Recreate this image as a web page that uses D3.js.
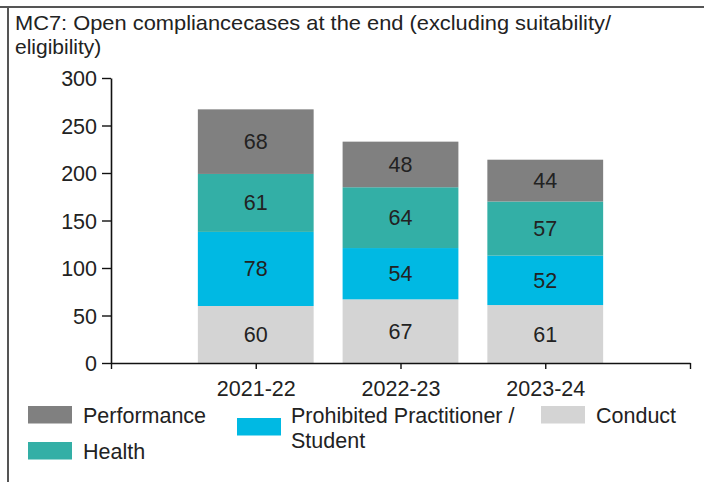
<!DOCTYPE html>
<html>
<head>
<meta charset="utf-8">
<script src="https://cdn.jsdelivr.net/npm/d3@7"></script>
<style>
  html, body { margin: 0; padding: 0; background: #fff; }
  svg { display: block; font-family: "Liberation Sans", Arial, sans-serif; }
</style>
</head>
<body>
<svg id="chart" width="704" height="482"></svg>
<script>
// Years shown along the x axis
const categories = ["2021-22", "2022-23", "2023-24"];
// Case counts per category, stacked bottom to top
const conduct = [60, 67, 61];
const prohibited = [78, 54, 52];
const health = [61, 64, 57];
const performance = [68, 48, 44];
// Y axis tick values
const yTicks = [0, 50, 100, 150, 200, 250, 300];

const seriesNames = ["Conduct", "Prohibited Practitioner / Student", "Health", "Performance"];
const seriesValues = [conduct, prohibited, health, performance];
const colors = {
  "Performance": "#808080",
  "Health": "#33afa6",
  "Prohibited Practitioner / Student": "#00b9e3",
  "Conduct": "#d4d4d4"
};
const textColor = "#222";
const fontSize = 21.5;

const svg = d3.select("#chart");

// Frame lines (top and left)
svg.append("line").attr("x1", 0).attr("x2", 704).attr("y1", 7).attr("y2", 7)
  .attr("stroke", "#555").attr("stroke-width", 2);
svg.append("line").attr("x1", 8).attr("x2", 8).attr("y1", 6).attr("y2", 482)
  .attr("stroke", "#555").attr("stroke-width", 2);

// Title
const title = svg.append("text").attr("fill", textColor).attr("font-size", 21);
title.append("tspan").attr("x", 15).attr("y", 30)
  .attr("textLength", 596).attr("lengthAdjust", "spacingAndGlyphs")
  .text("MC7: Open compliancecases at the end (excluding suitability/");
title.append("tspan").attr("x", 15).attr("y", 54).text("eligibility)");

// Scales
const y = d3.scaleLinear().domain([0, 300]).range([363, 78]);
const x = d3.scaleLinear().domain([0, categories.length + 1]).range([111, 690]);
const barW = (x(1) - x(0)) * 0.8;

// Stack rows
const rows = categories.map((c, i) => {
  const r = { cat: c, idx: i };
  seriesNames.forEach((s, k) => r[s] = seriesValues[k][i]);
  return r;
});
const stacked = d3.stack().keys(seriesNames)(rows);

const layers = svg.append("g").selectAll("g").data(stacked).join("g")
  .attr("fill", d => colors[d.key]);

layers.selectAll("rect").data(d => d).join("rect")
  .attr("x", d => x(d.data.idx + 1) - barW / 2)
  .attr("width", barW)
  .attr("y", d => y(d[1]))
  .attr("height", d => y(d[0]) - y(d[1]));

// Value labels centred in each segment
const labels = svg.append("g").attr("font-size", fontSize).attr("fill", textColor)
  .attr("text-anchor", "middle");
stacked.forEach(layer => {
  layer.forEach(d => {
    labels.append("text")
      .attr("x", x(d.data.idx + 1))
      .attr("y", (y(d[0]) + y(d[1])) / 2 + 7.5)
      .text(d[1] - d[0]);
  });
});

// Y axis
const yAxis = svg.append("g").attr("transform", "translate(111,0)")
  .call(d3.axisLeft(y).tickValues(yTicks).tickSize(9).tickSizeOuter(0).tickPadding(5));
yAxis.select(".domain").attr("stroke", "#111").attr("stroke-width", 1.6);
yAxis.selectAll(".tick line").attr("stroke", "#111").attr("stroke-width", 1.4);
yAxis.selectAll(".tick text").attr("font-size", fontSize).attr("fill", textColor)
  .attr("font-family", "Liberation Sans, Arial, sans-serif").attr("dy", "0.36em");

// X axis (ticks at both ends and under each bar)
const xAxis = svg.append("g").attr("transform", "translate(0,363)")
  .call(d3.axisBottom(x).tickValues(d3.range(categories.length + 2))
    .tickFormat(i => categories[i - 1] || "").tickSize(6).tickSizeOuter(0).tickPadding(0));
xAxis.select(".domain").attr("stroke", "#111").attr("stroke-width", 1.6);
xAxis.selectAll(".tick line").attr("stroke", "#111").attr("stroke-width", 1.4);
xAxis.selectAll(".tick text").attr("font-size", fontSize).attr("fill", textColor)
  .attr("font-family", "Liberation Sans, Arial, sans-serif")
  .attr("y", 33).attr("dy", 0);

// Legend
const legendItems = [
  { name: "Performance", sx: 28, sy: 406, tx: 83, ty: 423, lines: ["Performance"] },
  { name: "Health", sx: 28, sy: 442, tx: 83, ty: 459, lines: ["Health"] },
  { name: "Prohibited Practitioner / Student", sx: 237, sy: 418, tx: 291, ty: 423, lines: ["Prohibited Practitioner /", "Student"] },
  { name: "Conduct", sx: 541, sy: 406, tx: 596, ty: 423, lines: ["Conduct"] }
];
const legend = svg.append("g");
legendItems.forEach(it => {
  legend.append("rect").attr("x", it.sx).attr("y", it.sy).attr("width", 44).attr("height", 17.5)
    .attr("fill", colors[it.name]);
  const t = legend.append("text").attr("font-size", fontSize).attr("fill", textColor);
  it.lines.forEach((ln, j) => {
    t.append("tspan").attr("x", it.tx).attr("y", it.ty + j * 25).text(ln);
  });
});
</script>
</body>
</html>
